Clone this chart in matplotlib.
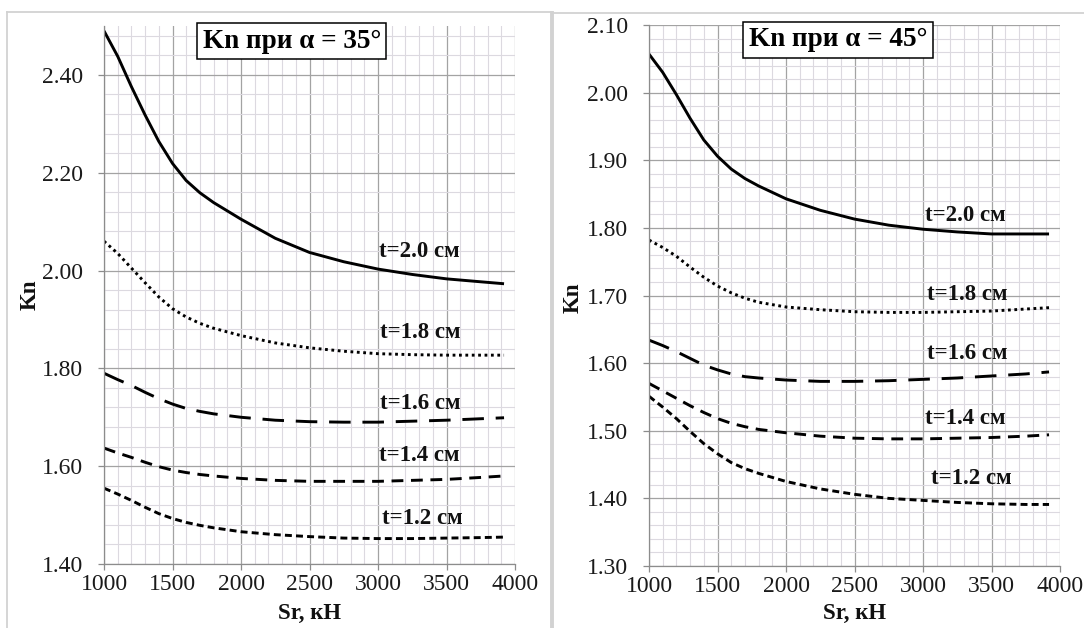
import matplotlib
matplotlib.use("Agg")
import matplotlib.pyplot as plt
from matplotlib.lines import Line2D
from matplotlib.ticker import MultipleLocator, FormatStrFormatter

plt.rcParams['font.family'] = ['Liberation Serif', 'DejaVu Serif']
plt.rcParams['lines.scale_dashes'] = False

# ---------------- data ----------------
sr = [1000, 1100, 1200, 1300, 1400, 1500, 1600, 1700, 1800, 2000, 2250, 2500,
      2750, 3000, 3250, 3500, 3750, 3920]

# alpha = 35 deg
k35_t20 = [2.490, 2.438, 2.376, 2.318, 2.264, 2.219, 2.184, 2.159, 2.139, 2.105,
           2.066, 2.037, 2.018, 2.003, 1.992, 1.983, 1.977, 1.973]
k35_t18 = [2.060, 2.035, 2.005, 1.975, 1.946, 1.922, 1.905, 1.892, 1.882, 1.867,
           1.852, 1.842, 1.835, 1.830, 1.828, 1.827, 1.827, 1.827]
k35_t16 = [1.790, 1.777, 1.765, 1.751, 1.738, 1.727, 1.718, 1.712, 1.707, 1.700,
           1.694, 1.691, 1.690, 1.690, 1.692, 1.694, 1.697, 1.699]
k35_t14 = [1.637, 1.627, 1.618, 1.608, 1.599, 1.592, 1.587, 1.583, 1.580, 1.575,
           1.571, 1.569, 1.569, 1.569, 1.571, 1.573, 1.577, 1.580]
k35_t12 = [1.555, 1.543, 1.530, 1.516, 1.503, 1.493, 1.485, 1.479, 1.474, 1.466,
           1.460, 1.456, 1.453, 1.452, 1.452, 1.453, 1.454, 1.455]

# alpha = 45 deg
k45_t20 = [2.057, 2.030, 1.997, 1.962, 1.930, 1.906, 1.887, 1.873, 1.862, 1.843,
           1.826, 1.813, 1.804, 1.798, 1.794, 1.791, 1.791, 1.791]
k45_t18 = [1.782, 1.771, 1.758, 1.742, 1.727, 1.714, 1.704, 1.696, 1.690, 1.683,
           1.679, 1.676, 1.675, 1.675, 1.676, 1.677, 1.680, 1.682]
k45_t16 = [1.634, 1.626, 1.617, 1.607, 1.597, 1.590, 1.584, 1.580, 1.578, 1.575,
           1.573, 1.573, 1.574, 1.576, 1.578, 1.581, 1.584, 1.587]
k45_t14 = [1.570, 1.559, 1.548, 1.537, 1.527, 1.518, 1.511, 1.506, 1.502, 1.497,
           1.492, 1.489, 1.488, 1.488, 1.489, 1.490, 1.492, 1.494]
k45_t12 = [1.551, 1.535, 1.518, 1.499, 1.481, 1.466, 1.453, 1.444, 1.437, 1.425,
           1.414, 1.406, 1.400, 1.397, 1.394, 1.392, 1.391, 1.391]

series_labels = ["t=2.0 см", "t=1.8 см", "t=1.6 см", "t=1.4 см", "t=1.2 см"]
label_x35 = [3300, 3305, 3305, 3300, 3320]
label_y35 = [2.038, 1.873, 1.728, 1.622, 1.494]
label_x45 = [3310, 3320, 3325, 3310, 3350]
label_y45 = [1.819, 1.702, 1.614, 1.518, 1.430]

titles = ["Kn при α = 35°", "Kn при α = 45°"]
x_label = "Sr, кН"
y_label = "Kn"

# ---------------- styling ----------------
W, H = 1084, 628
fig = plt.figure(figsize=(W / 100, H / 100), dpi=100)
fig.patch.set_facecolor("white")

styles = [
    dict(linestyle="-", lw=2.1),
    dict(linestyle=(0, (2.0, 2.6)), lw=2.1),
    dict(linestyle=(0, (15.5, 8.5)), lw=2.1),
    dict(linestyle=(0, (8.5, 5.5)), lw=2.1),
    dict(linestyle=(0, (5.0, 3.0)), lw=2.1),
]

def px(x, y):
    return x / W, 1 - y / H

def setup(ax, ymin, ymax, ymaj, ymin_step):
    ax.set_xlim(1000, 4000)
    ax.set_ylim(ymin, ymax)
    ax.xaxis.set_major_locator(MultipleLocator(500))
    ax.xaxis.set_minor_locator(MultipleLocator(100))
    ax.yaxis.set_major_locator(MultipleLocator(ymaj))
    ax.yaxis.set_minor_locator(MultipleLocator(ymin_step))
    ax.yaxis.set_major_formatter(FormatStrFormatter("%.2f"))
    ax.grid(which="minor", color="#dcd9e0", lw=0.8)
    ax.grid(which="major", color="#a3a3a3", lw=0.9)
    ax.set_axisbelow(True)
    for s in ["top", "right"]:
        ax.spines[s].set_visible(False)
    for s in ["left", "bottom"]:
        ax.spines[s].set_color("#8c8c8c")
        ax.spines[s].set_linewidth(0.9)
    ax.tick_params(which="major", direction="out", length=4, width=0.9,
                   color="#8c8c8c", labelsize=17, labelcolor="#1a1a1a")
    ax.tick_params(axis="y", which="major", pad=11)
    ax.tick_params(axis="x", which="major", pad=3)
    ax.tick_params(which="minor", length=0)

def draw(ax, data, lx, ly, title, tx, ty):
    for vals, st, lab, x, y in zip(data, styles, series_labels, lx, ly):
        ax.plot(sr, vals, color="black", dash_capstyle="butt",
                solid_capstyle="butt", solid_joinstyle="round", **st)
        ax.text(x, y, lab, ha="center", va="center", fontsize=16.5,
                fontweight="bold", color="#111111")
    ax.text(tx, ty, title, transform=ax.transAxes, ha="center", va="center",
            fontsize=19.5, fontweight="bold",
            bbox=dict(boxstyle="square,pad=0.2", fc="white", ec="black", lw=1.1))

axL = fig.add_axes([104 / W, (H - 564) / H, 411 / W, 538 / H])
setup(axL, 1.40, 2.50, 0.2, 0.04)
draw(axL, [k35_t20, k35_t18, k35_t16, k35_t14, k35_t12],
     label_x35, label_y35, titles[0], 0.457, 0.972)

axR = fig.add_axes([649 / W, (H - 566) / H, 411 / W, 541 / H])
setup(axR, 1.30, 2.10, 0.1, 0.02)
draw(axR, [k45_t20, k45_t18, k45_t16, k45_t14, k45_t12],
     label_x45, label_y45, titles[1], 0.460, 0.973)

# axis titles
for cx, cy in [(30, 295), (573, 298)]:
    fig.text(*px(cx, cy), y_label, rotation=90, ha="center", va="center",
             fontsize=16.5, fontweight="bold", color="#111111")
for cx, cy in [(310, 613), (855, 613)]:
    fig.text(*px(cx, cy), x_label, ha="center", va="center",
             fontsize=16.5, fontweight="bold", color="#111111")

# panel borders
border = "#d2d2d2"
def fline(x0, y0, x1, y1, lw):
    (a, b), (c, d) = px(x0, y0), px(x1, y1)
    fig.add_artist(Line2D([a, c], [b, d], transform=fig.transFigure,
                          color=border, lw=lw))

fline(7.3, 11.7, 7.3, 628, 1.3)
fline(7.3, 11.7, 552, 11.7, 1.3)
fline(552, 12.7, 552, 628, 2.8)
fline(552, 12.7, 1084, 12.7, 1.3)

fig.savefig("out.png", dpi=100, facecolor="white")
